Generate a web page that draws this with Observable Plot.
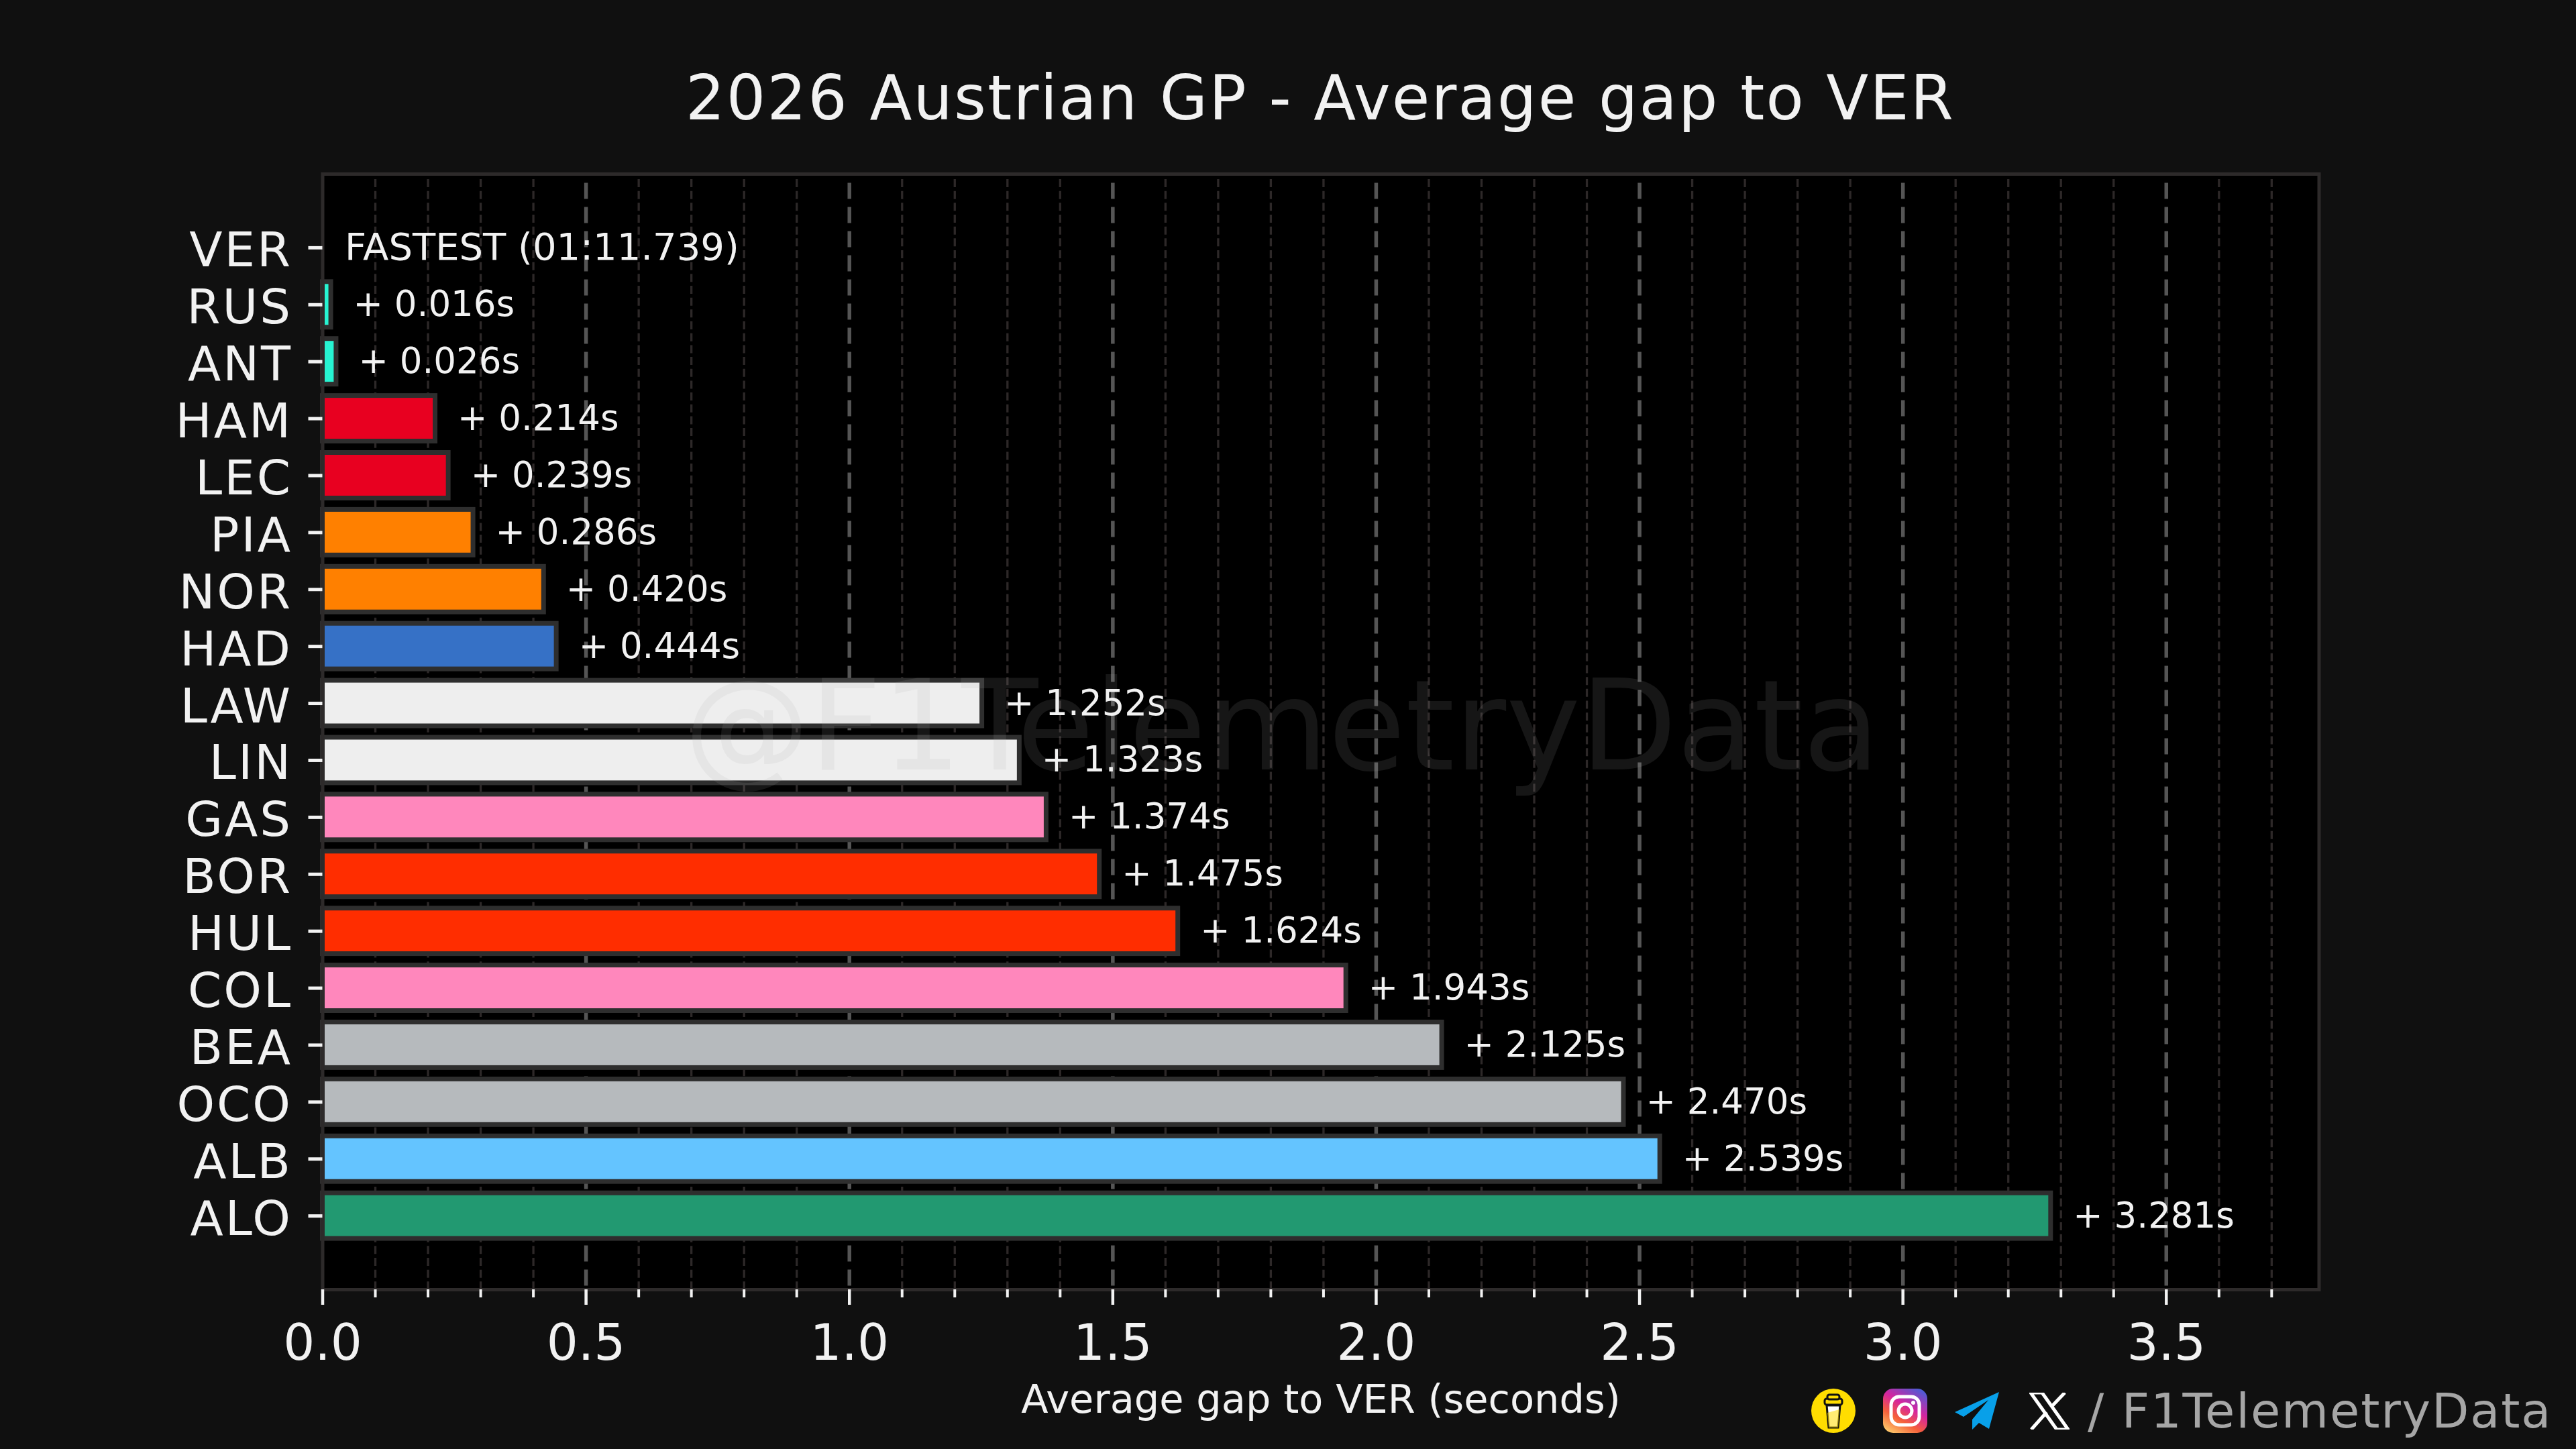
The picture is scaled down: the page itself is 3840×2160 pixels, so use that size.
<!DOCTYPE html>
<html><head><meta charset="utf-8">
<script src="https://cdn.jsdelivr.net/npm/d3@7"></script>
<script src="https://cdn.jsdelivr.net/npm/@observablehq/plot@0.6"></script>
<style>
html,body{margin:0;padding:0;background:#101010;width:3840px;height:2160px;overflow:hidden;font-family:"DejaVu Sans",sans-serif;color:#f2f2f2}
#title{height:180px;box-sizing:border-box;padding-left:96px;padding-top:90px;text-align:center;font-size:92px;letter-spacing:2.2px;line-height:114px;white-space:nowrap;margin:0;font-weight:400}
#chart svg{display:block}
#chart g[aria-label="y-axis tick label"] text{letter-spacing:3px}
#footer{position:absolute;left:0;top:0;width:3840px;height:2160px;pointer-events:none}
#handle{position:absolute;left:3112px;top:2058px;font-size:72px;letter-spacing:1.8px;line-height:90px;color:#a6a6a6;white-space:nowrap}
.ic{position:absolute}
</style></head><body>
<h1 id="title">2026 Austrian GP - Average gap to VER</h1>
<div id="chart"></div>
<div id="footer">
<svg class="ic" style="left:2700px;top:2070px" width="66" height="66" viewBox="0 0 66 66"><circle cx="33" cy="33" r="33" fill="#ffdd00"/><path d="M23 25h20l-3 33H26z" fill="#fff" stroke="#111" stroke-width="3"/><path d="M24 36l18-5-2 27H26z" fill="#ffdd00" opacity=".55"/><rect x="20" y="15" width="26" height="9" rx="3" fill="#ffdd00" stroke="#111" stroke-width="3"/><rect x="24" y="9" width="18" height="7" rx="3" fill="#ffdd00" stroke="#111" stroke-width="3"/></svg>
<svg class="ic" style="left:2807px;top:2070px" width="66" height="66" viewBox="0 0 66 66"><defs><linearGradient id="ig" x1="0.2" y1="1" x2="0.8" y2="0"><stop offset="0" stop-color="#fdc468"/><stop offset=".3" stop-color="#f5603a"/><stop offset=".6" stop-color="#d6249f"/><stop offset="1" stop-color="#4f5bd5"/></linearGradient></defs><rect width="66" height="66" rx="15" fill="url(#ig)"/><rect x="12" y="12" width="42" height="42" rx="12" fill="none" stroke="#fff" stroke-width="5"/><circle cx="33" cy="33" r="10" fill="none" stroke="#fff" stroke-width="5"/><circle cx="45" cy="21" r="3" fill="#fff"/></svg>
<svg class="ic" style="left:2914px;top:2075px" width="67" height="56" viewBox="0 0 67 56"><path d="M66 0L0 30l13 7L50 12 26 41v15l10-10 15 9z" fill="#08a0e9"/></svg>
<svg class="ic" style="left:3025px;top:2076px" width="60" height="55" viewBox="0 0 60 55"><path d="M2 0h17l39 55H41z M3 55L26 29M32 22L53 0" fill="none" stroke="#fff" stroke-width="5"/></svg>
<div id="handle">/ F1TelemetryData</div>
</div>
<script>
const drivers = ["VER","RUS","ANT","HAM","LEC","PIA","NOR","HAD","LAW","LIN","GAS","BOR","HUL","COL","BEA","OCO","ALB","ALO"];
const gaps = [0,0.016,0.026,0.214,0.239,0.286,0.420,0.444,1.252,1.323,1.374,1.475,1.624,1.943,2.125,2.470,2.539,3.281];
const barLabels = ["FASTEST (01:11.739)","+ 0.016s","+ 0.026s","+ 0.214s","+ 0.239s","+ 0.286s","+ 0.420s","+ 0.444s","+ 1.252s","+ 1.323s","+ 1.374s","+ 1.475s","+ 1.624s","+ 1.943s","+ 2.125s","+ 2.470s","+ 2.539s","+ 3.281s"];
const teamColors = ["#3671C6","#27F4D2","#27F4D2","#E80020","#E80020","#FF8000","#FF8000","#3671C6","#EEEEEE","#EEEEEE","#FF87BC","#FF2D00","#FF2D00","#FF87BC","#B6BABD","#B6BABD","#64C4FF","#229971"];
const majorTicks = [0,0.5,1,1.5,2,2.5,3,3.5];
const minorTicks = [0.1,0.2,0.3,0.4,0.6,0.7,0.8,0.9,1.1,1.2,1.3,1.4,1.6,1.7,1.8,1.9,2.1,2.2,2.3,2.4,2.6,2.7,2.8,2.9,3.1,3.2,3.3,3.4,3.6,3.7];
const rows = drivers.map((driver,i)=>({driver,gap:gaps[i],label:barLabels[i]}));
const spine = "#2d2a2a";
const chart = Plot.plot({
  width:3840,height:1980,marginLeft:480.5,marginRight:383.5,marginTop:79,marginBottom:238,
  style:{fontFamily:'"DejaVu Sans",sans-serif',background:"transparent",color:"#f2f2f2",overflow:"visible"},
  x:{domain:[0,3.79]},
  y:{domain:drivers,paddingInner:0.2,paddingOuter:0.894,round:false},
  color:{domain:drivers,range:teamColors},
  marks:[
    Plot.frame({fill:"#000",stroke:null}),
    Plot.ruleX(minorTicks,{stroke:"#2d2828",strokeWidth:3.3,strokeDasharray:"12,5.67",strokeDashoffset:9.67}),
    Plot.ruleX(majorTicks.slice(1),{stroke:"#555",strokeWidth:5.5,strokeDasharray:"24,12",strokeDashoffset:22.5}),
    Plot.barX(rows,{x:"gap",y:"driver",fill:"driver",stroke:"#2e2e2e",strokeWidth:7}),
    Plot.frame({stroke:spine,strokeWidth:5}),
    Plot.text(["@F1TelemetryData"],{frameAnchor:"middle",dx:-58,dy:-4,text:d=>d,fontSize:187,fill:"#aaaaaa",fillOpacity:0.13}),
    Plot.text(rows.slice(1),{x:"gap",y:"driver",text:"label",textAnchor:"start",dx:33,fontSize:53,fill:"#f2f2f2"}),
    Plot.text(rows.slice(0,1),{x:"gap",y:"driver",text:"label",textAnchor:"start",dx:33,fontSize:56,fill:"#f2f2f2"}),
    Plot.axisY({tickSize:21,text:null,stroke:"#f2f2f2",strokeWidth:5,label:null}),
    Plot.axisY({tickSize:0,tickPadding:45,dy:5,fontSize:72,fill:"#f2f2f2",label:null}),
    Plot.axisX(minorTicks,{tickSize:12,strokeWidth:4,stroke:"#f2f2f2",text:null,label:null,tickPadding:0}),
    Plot.axisX(majorTicks,{tickSize:23,tickPadding:29,strokeWidth:4.5,stroke:"#f2f2f2",fontSize:74,fill:"#f2f2f2",tickFormat:d3.format(".1f"),label:null}),
    Plot.axisX({ticks:[],label:"Average gap to VER (seconds)",labelAnchor:"center",labelArrow:"none",labelOffset:183,fontSize:59,fill:"#f2f2f2"})
  ]
});
document.getElementById("chart").appendChild(chart);
</script>
</body></html>
